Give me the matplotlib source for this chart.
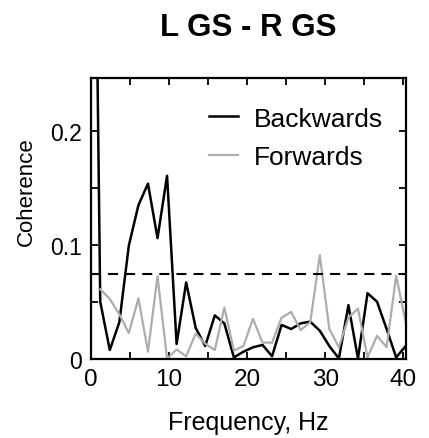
import matplotlib
matplotlib.use("Agg")
import matplotlib.pyplot as plt
import numpy as np

plt.rcParams['font.family'] = ['Liberation Sans', 'DejaVu Sans']

# frequency bins (1.2207 Hz spacing)
df = 1.2207
backwards = [0.75, 0.050, 0.0075, 0.032, 0.0996, 0.135, 0.154, 0.106, 0.161, 0.0128,
             0.067, 0.027, 0.011, 0.038, 0.031, 0.001, 0.006, 0.0099, 0.012, 0.002,
             0.0296, 0.026, 0.031, 0.0325, 0.0245, 0.011, 0.0, 0.047, 0.0, 0.0575,
             0.050, 0.026, 0.001, 0.011]
forwards = [np.nan, 0.061, 0.0525, 0.039, 0.0225, 0.053, 0.006, 0.0725, 0.0, 0.008,
            0.002, 0.022, 0.013, 0.0075, 0.045, 0.007, 0.011, 0.035, 0.014, 0.014,
            0.036, 0.041, 0.025, 0.032, 0.091, 0.026, 0.010, 0.036, 0.044, 0.001,
            0.020, 0.010, 0.073, 0.032]
threshold = 0.074

freqs = np.arange(len(backwards)) * df

fig = plt.figure(figsize=(4.29, 4.39), dpi=100)
ax = fig.add_axes([0.2114, 0.181, 0.7343, 0.639])

ax.plot(freqs, backwards, color='black', lw=1.8, label='Backwards')
ax.plot(freqs, forwards, color='#adadad', lw=1.6, label='Forwards')
ax.plot([freqs[0], freqs[-1]], [threshold, threshold], color='black', lw=1.5,
        linestyle=(0, (4.8, 3.4)))

ax.set_xlim(0, freqs[-1])
ax.set_ylim(0, 0.247)

ax.set_xticks(np.arange(0, 41, 5))
ax.set_xticklabels(['0', '', '10', '', '20', '', '30', '', '40'])
ax.set_yticks([0, 0.05, 0.1, 0.15, 0.2])
ax.set_yticklabels(['0', '', '0.1', '', '0.2'])
ax.tick_params(direction='in', length=5, width=1.3, top=True, right=True)
ax.tick_params(axis='x', labelsize=17.5, pad=7)
ax.tick_params(axis='y', labelsize=16.5, pad=6)
for s in ax.spines.values():
    s.set_linewidth(1.6)

ax.set_xlabel('Frequency, Hz', fontsize=18, labelpad=14)
ax.set_ylabel('Coherence', fontsize=16)
ax.yaxis.set_label_coords(-0.17, 0.597)
ax.set_title('L GS - R GS', fontsize=22.5, fontweight='bold', pad=31)

ax.legend(loc='upper right', bbox_to_anchor=(0.961, 0.936), borderaxespad=0,
          frameon=False, fontsize=19, handlelength=1.1,
          handletextpad=0.6, labelspacing=0.56)

fig.savefig('out.png', dpi=100)
